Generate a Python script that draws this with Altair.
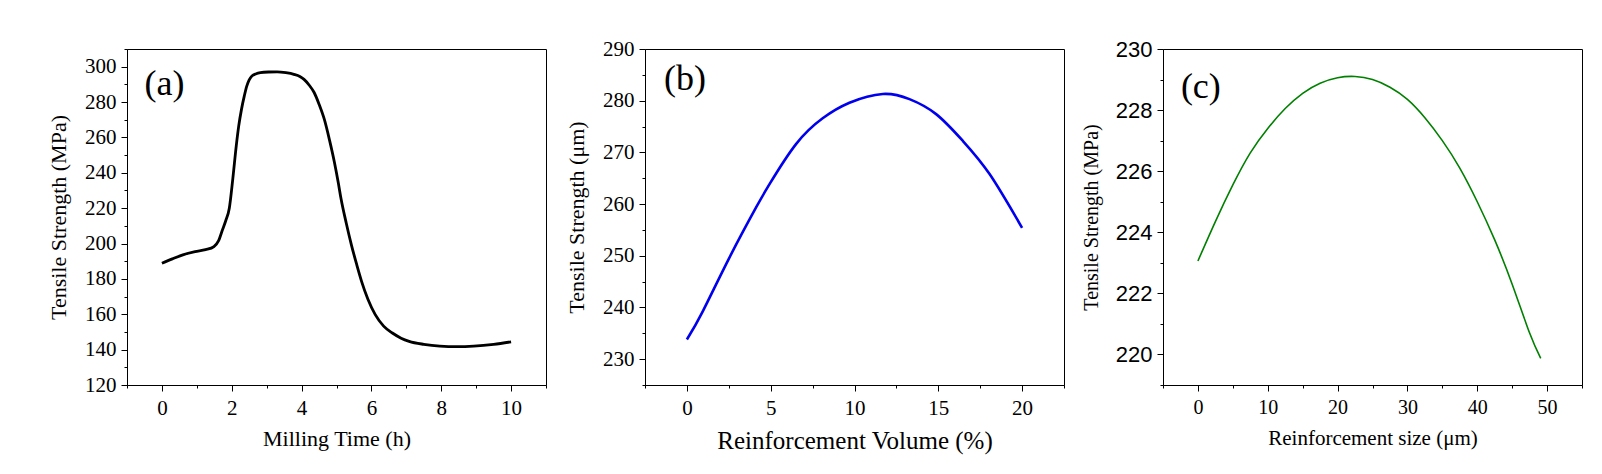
import altair as alt
import pandas as pd

# ---------- data ----------
a_x = [0, 0.3, 0.6, 0.95, 1.25, 1.49, 1.62, 1.73, 1.83, 1.93, 2.03, 2.13, 2.2, 2.28, 2.36, 2.43, 2.5, 2.58, 2.7, 2.82, 3.05, 3.3, 3.55, 3.78, 3.95, 4.07, 4.22, 4.36, 4.5, 4.65, 4.8, 4.94, 5.05, 5.13, 5.28, 5.43, 5.58, 5.72, 5.9, 6.11, 6.35, 6.6, 6.85, 7.08, 7.5, 7.96, 8.45, 8.93, 9.5, 10.0]
a_y = [188.8, 191.3, 193.6, 195.4, 196.5, 198.3, 201.5, 207.5, 213.0, 220.0, 236.6, 255.4, 266.5, 276.0, 283.5, 289.0, 292.5, 294.8, 296.0, 296.6, 297.0, 297.1, 296.6, 295.7, 294.5, 292.8, 289.5, 285.4, 278.8, 270.3, 258.5, 246.0, 234.5, 225.3, 211.5, 199.0, 188.0, 178.5, 168.5, 159.8, 153.3, 149.4, 146.5, 144.7, 143.0, 142.0, 141.7, 142.0, 143.0, 144.4]

b_x = [0, 0.94, 2.53, 4.12, 4.92, 6.51, 8.1, 9.7, 11.69, 13.28, 14.87, 16.47, 18.06, 20]
b_y = [233.8, 239.2, 249.6, 259.3, 263.8, 271.6, 276.6, 279.6, 281.3, 280.3, 277.4, 272.2, 265.8, 255.4]

c_x = [0, 2.5, 5, 7.5, 10, 12.5, 15, 17.5, 20, 22.5, 25, 27.5, 30, 32.5, 35, 37.5, 40, 42.5, 45, 47.5, 49.09]
c_y = [223.06, 224.35, 225.55, 226.6, 227.4, 228.05, 228.55, 228.88, 229.06, 229.1, 229.0, 228.75, 228.35, 227.75, 227.0, 226.1, 225.0, 223.75, 222.3, 220.7, 219.87]

panel_labels = ["(a)", "(b)", "(c)"]
label_x = [-0.5, -1.36, -2.44]
label_y = [290, 284.2, 228.76]

x_titles = ["Milling Time (h)", "Reinforcement Volume (%)", "Reinforcement size (\u03bcm)"]
y_titles = ["Tensile Strength (MPa)", "Tensile Strength (\u03bcm)", "Tensile Strength (MPa)"]

SERIF = "Liberation Serif"
SANS = "Liberation Sans"
W, H = 419, 336


def frange(start, stop, step):
    out = []
    v = start
    while v <= stop + 1e-9:
        out.append(round(v, 6))
        v += step
    return out


def axis(vals, major, title, label_font, label_size, title_size, label_pad, title_pad):
    test = f"abs(datum.value % {major}) < 1e-6"
    return alt.Axis(
        values=vals,
        labelExpr=f"{test} ? datum.label : ''",
        tickSize={"condition": {"test": test, "value": 6}, "value": 3},
        grid=False,
        title=title,
        titleFont=SERIF,
        titleFontSize=title_size,
        titleFontWeight="normal",
        titleColor="black",
        labelFont=label_font,
        labelFontSize=label_size,
        labelColor="black",
        labelPadding=label_pad,
        titlePadding=title_pad,
        labelOverlap=False,
        labelFlush=False,
        labelBound=False,
        domainColor="black",
        tickColor="black",
        tickWidth=1,
    )


def panel(xs, ys, xdom, xstep, xmajor, ydom, ystep, ymajor, color, sw, interp, i,
          ylabel_font, ylabel_size, xtitle_size, ytitle_size, xlabel_size):
    df = pd.DataFrame({"x": xs, "y": ys})
    lab = pd.DataFrame({"x": [label_x[i]], "y": [label_y[i]], "t": [panel_labels[i]]})
    xs_ = alt.Scale(domain=xdom, nice=False, zero=False)
    ys_ = alt.Scale(domain=ydom, nice=False, zero=False)
    xax = axis(frange(xdom[0], xdom[1], xstep), xmajor, x_titles[i], SERIF, xlabel_size, xtitle_size, 6, 10)
    yax = axis(frange(ydom[0], ydom[1], ystep), ymajor, y_titles[i], ylabel_font, ylabel_size, ytitle_size, 5, 14)
    line = alt.Chart(df).mark_line(color=color, strokeWidth=sw, interpolate=interp).encode(
        x=alt.X("x:Q", scale=xs_, axis=xax),
        y=alt.Y("y:Q", scale=ys_, axis=yax),
    )
    txt = alt.Chart(lab).mark_text(font=SERIF, fontSize=36, align="left", baseline="middle", color="black").encode(
        x=alt.X("x:Q", scale=xs_, axis=xax),
        y=alt.Y("y:Q", scale=ys_, axis=yax),
        text="t:N",
    )
    return alt.layer(line, txt).properties(width=W, height=H)


pa = panel(a_x, a_y, [-1, 11], 1, 2, [120, 310], 10, 20, "black", 2.8, "monotone", 0, SERIF, 21, 22, 22, 21)
pb = panel(b_x, b_y, [-2.5, 22.5], 2.5, 5, [225, 290], 5, 10, "#0000ee", 2.6, "natural", 1, SERIF, 21, 25, 22, 21)
pc = panel(c_x, c_y, [-5, 55], 5, 10, [219, 230], 1, 2, "#008000", 1.6, "natural", 2, SANS, 22, 21, 20, 20)

chart = alt.hconcat(pa, pb, pc, spacing=99, bounds="flush").properties(
    padding={"left": 39, "top": 29, "right": 5, "bottom": 5}
).configure_view(stroke="black", strokeWidth=1).configure_axis(labelOverlap=False)

chart.save("out.html", embed_options={"renderer": "svg", "actions": False})
